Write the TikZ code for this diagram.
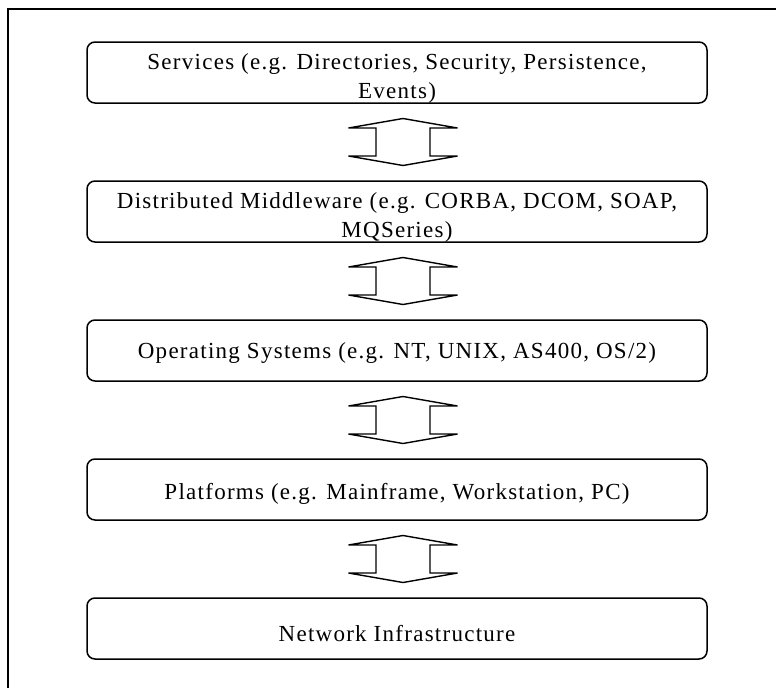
\documentclass[tikz,border=0pt]{standalone}
\usepackage{fontspec}
\setmainfont{Liberation Serif}[LetterSpace=5.5]
\usetikzlibrary{calc}
\begin{document}
\begin{tikzpicture}[x=1pt,y=-1pt,
  layer/.style={draw, line width=1.5pt, rounded corners=8pt, minimum width=620pt, minimum height=61pt, inner sep=0pt},
  txt/.style={align=center, font=\fontsize{23}{28.5}\selectfont, inner sep=0pt},
  dblarr/.pic={\draw[line width=1.4pt, line join=miter] (-54.5,-14) -- (0,-23.5) -- (54.5,-14) -- (27,-14) -- (27,14) -- (54.5,14) -- (0,23.5) -- (-54.5,14) -- (-27,14) -- (-27,-14) -- cycle;}]
\useasboundingbox (0,0) rectangle (776,688);
\draw[line width=1.5pt] (8,688) -- (8,9) -- (776,9);
\node[layer, label={[txt, yshift=-6pt]center:{Services (e.g. Directories, Security, Persistence,\\Events)}}] (s) at (397,72.5) {};
\node[layer, label={[txt, yshift=-6pt]center:{Distributed Middleware (e.g. CORBA, DCOM, SOAP,\\MQSeries)}}] (m) at (397,211.5) {};
\node[layer, label={[txt, yshift=-2pt]center:{Operating Systems (e.g. NT, UNIX, AS400, OS/2)}}] (o) at (397,350.5) {};
\node[layer, label={[txt, yshift=-4pt]center:{Platforms (e.g. Mainframe, Workstation, PC)}}] (p) at (397,489.5) {};
\node[layer, label={[txt, yshift=-5pt]center:{Network Infrastructure}}] (n) at (397,628.5) {};
\path ([xshift=6pt]$(s.south)!0.5!(m.north)$) pic {dblarr};
\path ([xshift=6pt]$(m.south)!0.5!(o.north)$) pic {dblarr};
\path ([xshift=6pt]$(o.south)!0.5!(p.north)$) pic {dblarr};
\path ([xshift=6pt]$(p.south)!0.5!(n.north)$) pic {dblarr};
\end{tikzpicture}
\end{document}
